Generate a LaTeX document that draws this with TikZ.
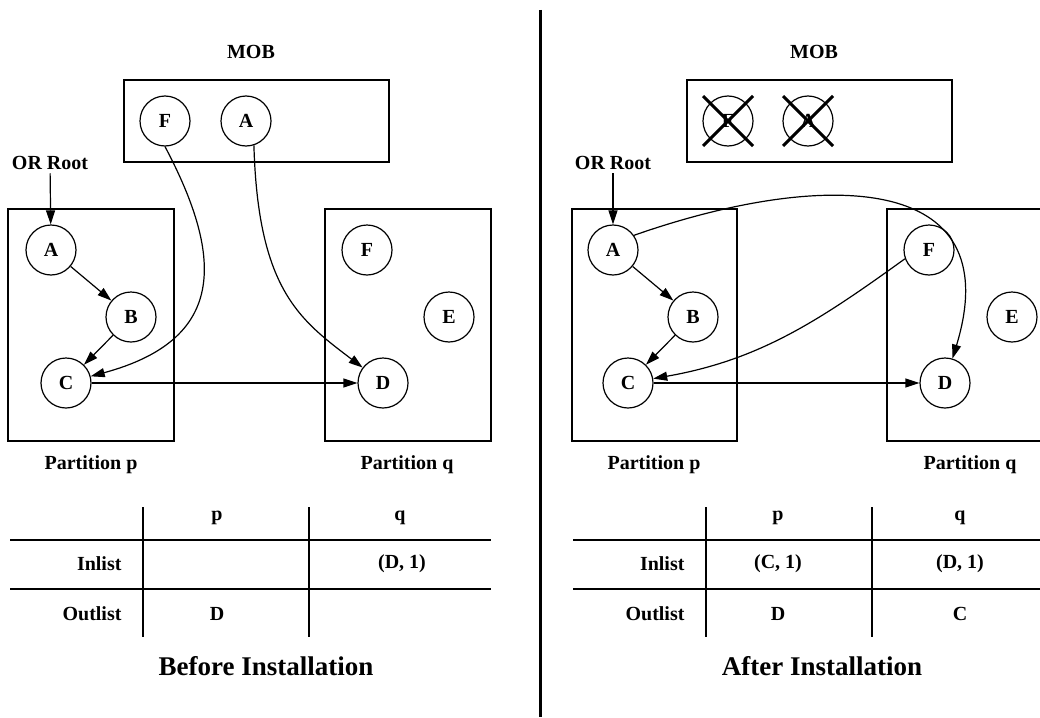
\documentclass[tikz,border=0pt]{standalone}
\usepackage{fontspec}
\setmainfont{Liberation Serif}
\usepackage{tikz}
\usetikzlibrary{arrows.meta,positioning}
\tikzset{
  lbl/.style={font=\fontsize{20}{24}\selectfont\bfseries},
  big/.style={font=\fontsize{27}{32}\selectfont\bfseries},
  obj/.style={circle,draw,line width=1.2pt,minimum size=50pt,inner sep=0pt,lbl},
  box/.style={draw,line width=1.2pt},
  ptr/.style={-{Triangle[length=14pt,width=9pt]},line width=1.2pt},
  gone/.style={line width=3pt},
  rule/.style={line width=1.2pt},
}
\begin{document}
\begin{tikzpicture}[x=1pt,y=-1pt]
  \useasboundingbox (0,0) rectangle (1040,717);
  % divider
  \draw[line width=3pt] (540,10) -- (540,717);

  % ---- before installation
  \node[lbl] (mob1) at (251,52) {MOB};
  \draw[box] (124,80) rectangle (389,162);
  \node[obj] (mf1) at (165,121) {F};
  \node[obj] (ma1) at (246,121) {A};
  \node[lbl] (root1) at (50,163) {OR Root};
  \draw[box] (8,209) rectangle (174,441);
  \draw[box] (325,209) rectangle (491,441);
  \node[obj] (a1) at (51,250) {A};
  \node[obj] (b1) at (131,317) {B};
  \node[obj] (c1) at (66,383) {C};
  \node[obj] (f1) at (367,250) {F};
  \node[obj] (e1) at (449,317) {E};
  \node[obj] (d1) at (383,383) {D};
  \node[lbl] (pp1) at (91,465) {Partition p};
  \node[lbl] (pq1) at (407,465) {Partition q};
  \draw[ptr] (root1) -- (a1);
  \draw[ptr] (a1) -- (b1);
  \draw[ptr] (b1) -- (c1);
  \draw[ptr] (c1) -- (d1);
  \draw[ptr] (mf1.south) .. controls (225,260) and (225,340) .. (c1);
  \draw[ptr] (ma1.-72) .. controls (258,290) and (300,320) .. (d1);
  % table
  \draw[rule] (10,540) -- (491,540) (10,589) -- (491,589);
  \draw[rule] (143,507) -- (143,637) (309,507) -- (309,637);
  \node[lbl] (hp1) at (217,518) {p};
  \node[lbl] (hq1) at (400,518) {q};
  \node[lbl,anchor=east] (in1) at (125,564) {Inlist};
  \node[lbl,anchor=east] (out1) at (125,614) {Outlist};
  \node[lbl] (inq1) at (402,564) {(D, 1)};
  \node[lbl] (outp1) at (217,614) {D};
  \node[big] (t1) at (266,666) {Before Installation};

  % ---- after installation
  \node[lbl] (mob2) at (814,52) {MOB};
  \draw[box] (687,80) rectangle (952,162);
  \node[obj] (mf2) at (728,121) {F};
  \node[obj] (ma2) at (808,121) {A};
  \draw[gone] (mf2.center) ++(-25,-25) -- ++(50,50) ++(0,-50) -- ++(-50,50);
  \draw[gone] (ma2.center) ++(-25,-25) -- ++(50,50) ++(0,-50) -- ++(-50,50);
  \node[lbl] (root2) at (613,163) {OR Root};
  \draw[box] (572,209) rectangle (737,441);
  \draw[box] (887,209) rectangle (1054,441);
  \node[obj] (a2) at (613,250) {A};
  \node[obj] (b2) at (693,317) {B};
  \node[obj] (c2) at (628,383) {C};
  \node[obj] (f2) at (929,250) {F};
  \node[obj] (e2) at (1012,317) {E};
  \node[obj] (d2) at (945,383) {D};
  \node[lbl] (pp2) at (654,465) {Partition p};
  \node[lbl] (pq2) at (970,465) {Partition q};
  \draw[ptr] (root2) -- (a2);
  \draw[ptr] (a2) -- (b2);
  \draw[ptr] (b2) -- (c2);
  \draw[ptr] (c2) -- (d2);
  \draw[ptr] (a2.35) .. controls (820,170) and (1010,170) .. (d2);
  \draw[ptr] (f2.200) .. controls (820,320) and (760,360) .. (c2);
  % table
  \draw[rule] (573,540) -- (1054,540) (573,589) -- (1054,589);
  \draw[rule] (706,507) -- (706,637) (872,507) -- (872,637);
  \node[lbl] (hp2) at (778,518) {p};
  \node[lbl] (hq2) at (960,518) {q};
  \node[lbl,anchor=east] (in2) at (688,564) {Inlist};
  \node[lbl,anchor=east] (out2) at (688,614) {Outlist};
  \node[lbl] (inp2) at (778,564) {(C, 1)};
  \node[lbl] (inq2) at (960,564) {(D, 1)};
  \node[lbl] (outp2) at (778,614) {D};
  \node[lbl] (outq2) at (960,614) {C};
  \node[big] (t2) at (822,666) {After Installation};
\end{tikzpicture}
\end{document}
